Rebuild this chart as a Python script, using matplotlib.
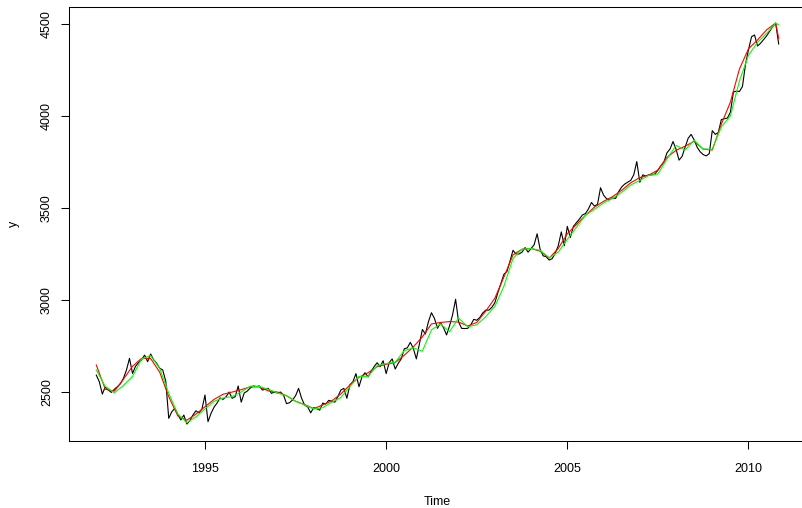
import matplotlib
matplotlib.use("Agg")
import matplotlib.pyplot as plt
import numpy as np

# monthly series, Jan 1992 .. Nov 2010
start_year = 1992
y_values = [
    2592, 2556, 2489, 2529, 2511, 2498, 2515, 2529, 2545, 2575, 2620, 2683,
    2601, 2640, 2660, 2675, 2701, 2665, 2707, 2675, 2656, 2629, 2620, 2560,
    2357, 2393, 2411, 2380, 2348, 2375, 2326, 2345, 2375, 2398, 2387, 2408,
    2484, 2339, 2384, 2418, 2440, 2468, 2460, 2475, 2500, 2466, 2475, 2533,
    2445, 2495, 2505, 2522, 2533, 2530, 2533, 2511, 2515, 2520, 2493, 2500,
    2495, 2500, 2484, 2437, 2442, 2457, 2480, 2520, 2466, 2429, 2420, 2387,
    2415, 2410, 2402, 2440, 2435, 2455, 2450, 2445, 2475, 2511, 2520, 2466,
    2540, 2556, 2600, 2529, 2583, 2605, 2583, 2610, 2638, 2659, 2638, 2670,
    2600, 2660, 2680, 2625, 2656, 2680, 2735, 2740, 2770, 2737, 2680, 2760,
    2840, 2815, 2882, 2931, 2900, 2846, 2877, 2850, 2810, 2860, 2920, 3004,
    2880, 2846, 2845, 2846, 2864, 2895, 2890, 2905, 2930, 2945, 2945, 2960,
    2985, 3040, 3090, 3140, 3155, 3210, 3270, 3250, 3250, 3260, 3285, 3260,
    3280, 3300, 3360, 3275, 3240, 3235, 3217, 3225, 3255, 3295, 3370, 3295,
    3400, 3340, 3400, 3420, 3440, 3462, 3470, 3495, 3530, 3510, 3520, 3610,
    3570, 3550, 3545, 3555, 3552, 3589, 3614, 3630, 3640, 3650, 3680, 3752,
    3640, 3680, 3674, 3680, 3680, 3685, 3705, 3730, 3750, 3800, 3820, 3861,
    3820, 3760, 3780, 3830, 3878, 3900, 3870, 3830, 3805, 3790, 3783, 3795,
    3920, 3900, 3910, 3980, 3985, 3988, 4020, 4130, 4135, 4133, 4160, 4280,
    4360, 4430, 4440, 4380, 4395, 4415, 4435, 4460, 4485, 4504, 4391,
]

# smoothed curves read at quarterly month indices (plus last month)
smooth_months = list(range(0, 226, 3)) + [226]
red_values = [
    2647, 2515, 2505, 2570, 2640, 2683, 2682, 2608, 2475, 2370,
    2347, 2380, 2420, 2460, 2488, 2500, 2513, 2528, 2528, 2506,
    2500, 2480, 2450, 2432, 2410, 2430, 2452, 2490, 2538, 2580,
    2605, 2638, 2651, 2660, 2700, 2745, 2800, 2870, 2878, 2883,
    2880, 2859, 2878, 2940, 3010, 3125, 3245, 3276, 3280, 3265,
    3228, 3280, 3360, 3410, 3460, 3505, 3536, 3562, 3596, 3637,
    3665, 3679, 3706, 3775, 3813, 3836, 3862, 3820, 3815, 3955,
    4075, 4255, 4365, 4413, 4468, 4505, 4422,
]
green_values = [
    2620, 2530, 2496, 2536, 2585, 2680, 2698, 2628, 2493, 2380,
    2334, 2365, 2408, 2450, 2468, 2475, 2500, 2532, 2530, 2515,
    2495, 2480, 2450, 2430, 2408, 2415, 2445, 2470, 2530, 2585,
    2585, 2643, 2655, 2662, 2725, 2740, 2722, 2838, 2870, 2828,
    2902, 2855, 2865, 2910, 2965, 3075, 3225, 3276, 3280, 3270,
    3230, 3260, 3330, 3395, 3460, 3493, 3527, 3553, 3585, 3625,
    3650, 3677, 3685, 3765, 3840, 3815, 3868, 3820, 3820, 3940,
    4000, 4190, 4330, 4400, 4448, 4505, 4495,
]

x_ticks = [1995, 2000, 2005, 2010]
y_ticks = [2500, 3000, 3500, 4000, 4500]

plt.rcParams['font.family'] = ['Liberation Sans', 'DejaVu Sans']

t = start_year + np.arange(len(y_values)) / 12.0
ts = start_year + np.array(smooth_months) / 12.0

fig = plt.figure(figsize=(8.03, 5.08), dpi=100)
W, H = 803, 508
ax = fig.add_axes([69 / W, 1 - 441 / H, (806 - 69) / W, (441 - 7) / H])

lw = 0.8
ax.plot(t, y_values, color='black', lw=lw)
ax.plot(ts, red_values, color='#FF0000', lw=lw)
ax.plot(ts, green_values, color='#00FF00', lw=lw)

ax.set_xlim(1991.247, 2011.587)
ax.set_ylim(2234, 4592)
ax.set_xticks(x_ticks)
ax.set_yticks(y_ticks)
ax.set_xticklabels([str(v) for v in x_ticks])
ax.set_yticklabels([str(v) for v in y_ticks], rotation=90, va='center')

ax.tick_params(direction='out', length=5.5, width=0.75, labelsize=9, colors='black')
ax.tick_params(axis='x', pad=10.5)
ax.tick_params(axis='y', pad=6)
for s in ax.spines.values():
    s.set_linewidth(0.75)
    s.set_color('black')

ax.set_xlabel('Time', fontsize=9, labelpad=15)
ax.set_ylabel('y', fontsize=9, labelpad=15)

fig.savefig('out.png', dpi=100)
